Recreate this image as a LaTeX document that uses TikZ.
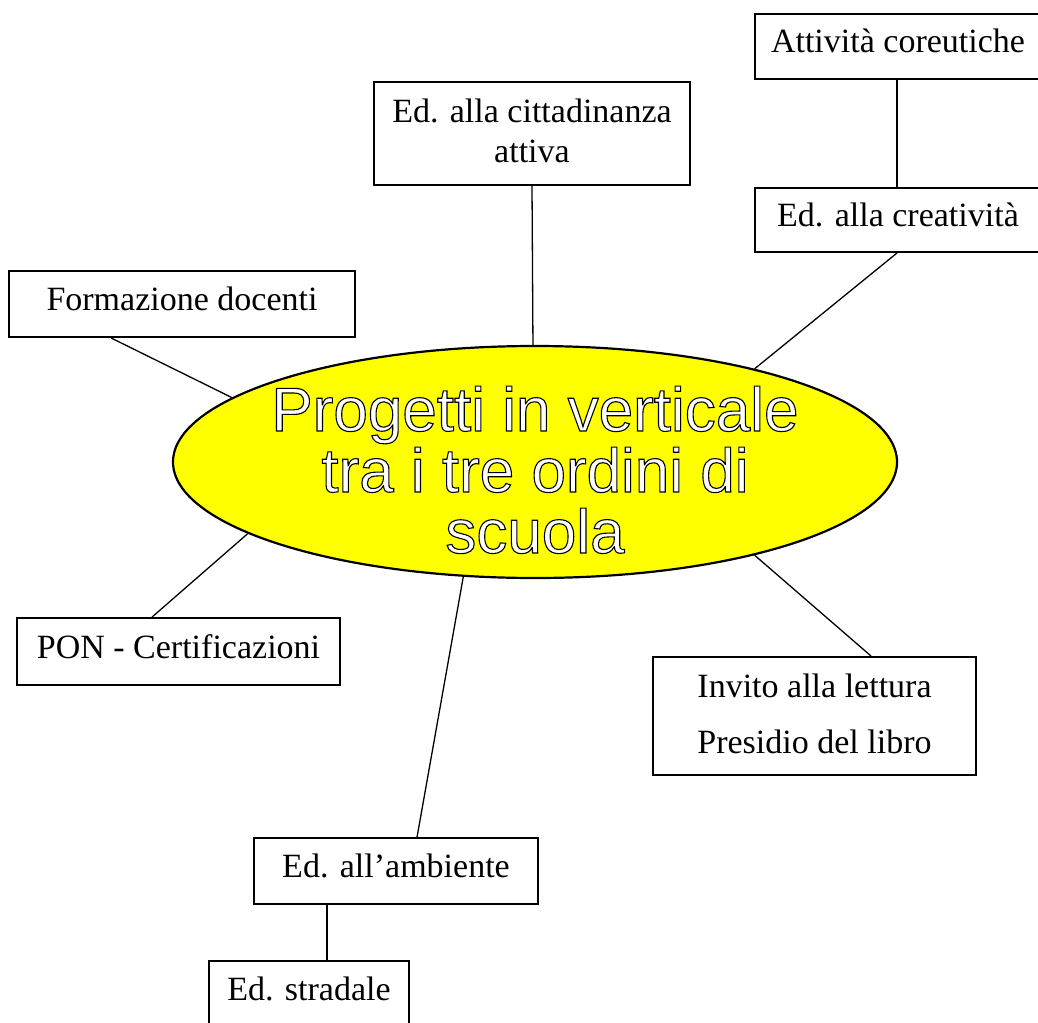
\documentclass[tikz,border=0pt]{standalone}
\usepackage{fontspec}
\setmainfont{Liberation Serif}
\newfontfamily\arialf{Liberation Sans}
\usetikzlibrary{shapes.geometric}
\definecolor{hubyellow}{RGB}{255,255,0}
\newcommand\hollowtext[1]{\special{pdf:literal direct 0 G 2 Tr 1.1 w}#1\special{pdf:literal direct 0 Tr}}
\tikzset{
  box/.style={draw, line width=1.9pt, rectangle, inner sep=0pt, align=center,
    font=\fontsize{34}{40}\selectfont, text height=22pt, text depth=9pt},
  link/.style={line width=1.3pt},
  hub/.style={draw, ellipse, line width=2.2pt, fill=hubyellow, inner sep=0pt},
  hubtxt/.style={inner sep=0pt, text=white, align=center, font=\arialf\fontsize{62}{61}\selectfont},
}
\begin{document}
\begin{tikzpicture}[x=1pt,y=-1pt]
\useasboundingbox (0,0) rectangle (1038,1022);
\clip (0,0) rectangle (1038,1022);
% central ellipse
\node[hub, minimum width=724pt, minimum height=232pt] (hub) at (535,462) {};
\node[hubtxt, anchor=base] (hubtext) at (535,553)
  {\hollowtext{Progetti in verticale}\\\hollowtext{tra i tre ordini di}\\\hollowtext{scuola}};
% boxes (the two on the right run past the page edge)
\node[box, minimum width=310pt, minimum height=65pt] (coreut) at (910,46.5) {Attività coreutiche\hspace{24pt}};
\node[box, minimum width=310pt, minimum height=64pt] (creat) at (910,220) {Ed. alla creatività\hspace{24pt}};
\node[box, minimum width=316pt, minimum height=103pt, text height=66pt, text depth=9pt] (citt) at (532,133.5) {Ed. alla cittadinanza\\attiva};
\node[box, minimum width=346pt, minimum height=66pt] (form) at (182,304) {Formazione docenti};
\node[box, minimum width=323pt, minimum height=67pt] (pon) at (178.5,651.5) {PON - Certificazioni};
\node[box, minimum width=323pt, minimum height=118pt, text height=83pt, text depth=9pt, font=\fontsize{34}{56}\selectfont] (inv) at (814.5,716) {Invito alla lettura\\Presidio del libro};
\node[box, minimum width=284pt, minimum height=66pt] (amb) at (396,871) {Ed. all’ambiente};
\node[box, minimum width=200pt, minimum height=66pt] (strad) at (309,994) {Ed. stradale};
% connectors
\draw[link] ([xshift=143pt]coreut.south west) -- ([xshift=143pt]creat.north west);
\draw[link] ([xshift=143pt]creat.south west) -- (hub.23.07);
\draw[link] (citt.south) -- (hub.91.47);
\draw[link] ([xshift=103pt]form.south west) -- (hub.168.3);
\draw[link] ([xshift=136pt]pon.north west) -- (hub.194.1);
\draw[link] ([xshift=219pt]inv.north west) -- (hub.-23.6);
\draw[link] ([xshift=164pt]amb.north west) -- (hub.238.4);
\draw[link] ([xshift=74pt]amb.south west) -- ([xshift=119pt]strad.north west);
\end{tikzpicture}
\end{document}
